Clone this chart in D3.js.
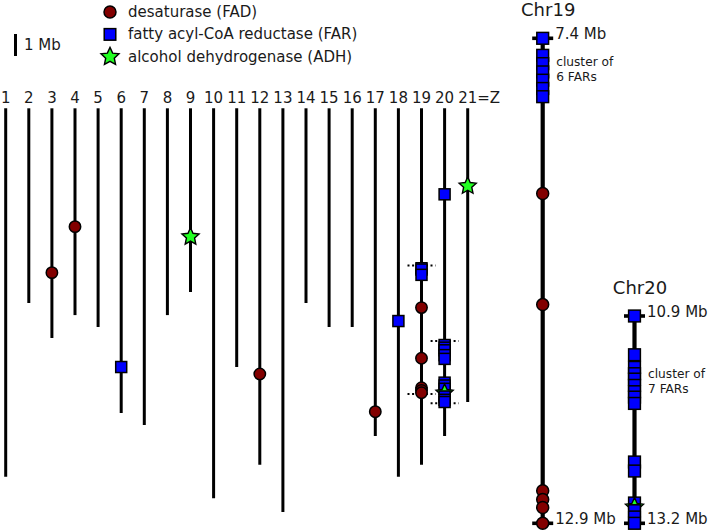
<!DOCTYPE html>
<html>
<head>
<meta charset="utf-8">
<script src="https://cdn.jsdelivr.net/npm/d3@7"></script>
<style>
  html, body { margin: 0; padding: 0; background: #fff; }
  svg { display: block; font-family: "DejaVu Sans", sans-serif; }
</style>
</head>
<body>
<svg id="chart" width="709" height="532"></svg>
<script>
// ---------------- DATA ----------------
const chromNames = ["1","2","3","4","5","6","7","8","9","10","11","12","13","14","15","16","17","18","19","20","21=Z"];
// chromosome lengths (Mb)
const chromLengths = [16.75, 8.85, 10.44, 9.4, 9.94, 13.85, 14.4, 9.4, 8.35, 17.72, 11.76, 16.2, 18.35, 8.85, 9.94, 9.94, 14.9, 16.75, 16.2, 14.9, 13.35];

// genome-wide markers (chromosome number, position Mb)
const fadMain = [[3,7.47],[4,5.38],[12,12.08],[17,13.79],[19,9.06],[19,11.36],[19,12.7],[19,12.82],[19,12.93]];
const farMain = [[6,11.76],[18,9.67],
  [19,7.27],[19,7.33],[19,7.57],
  [20,3.91],
  [20,10.76],[20,10.88],[20,11.0],[20,11.22],[20,11.39],
  [20,12.47],[20,12.6],[20,12.75],[20,13.1],[20,13.25],[20,13.35]];
const adhMain = [[9,5.84],[20,12.94],[21,3.53]];

// zoomed regions marked by dotted lines on the genome view (chr, start, end in Mb)
const zoomMarks = [[19,7.15,12.99],[20,10.58,13.41]];

// zoomed chromosome panels
const chr19Range = [7.4, 12.9];
const chr19FAD = [9.16, 10.42, 12.53, 12.63, 12.72, 12.9];
const chr19FAR = [7.4, 7.593, 7.687, 7.781, 7.875, 7.969, 8.062];
const chr19ADH = [];
const chr19Cluster = {start: 7.593, text: ["cluster of", "6 FARs"]};

const chr20Range = [10.9, 13.2];
const chr20FAD = [];
const chr20FAR = [10.9, 11.33, 11.47, 11.54, 11.6, 11.67, 11.74, 11.8, 11.87, 12.52, 12.62, 12.975, 13.06, 13.13, 13.2];
const chr20ADH = [13.02];
const chr20Cluster = {start: 11.47, text: ["cluster of", "7 FARs"]};

const legendItems = [["fad","desaturase (FAD)"],["far","fatty acyl-CoA reductase (FAR)"],["adh","alcohol dehydrogenase (ADH)"]];

// ---------------- STYLE ----------------
const COL = {fad: "#820000", far: "#0000ff", adh: "#22ff22"};
const TEXT = "#1a1a1a";

const svg = d3.select("#chart");

// scales for genome view
const x = d3.scaleLinear().domain([1, 21]).range([5.7, 467.7]);
const y = d3.scaleLinear().domain([0, 1]).range([108.3, 130.3]); // 22 px per Mb

function starPath(R, r) {
  const pts = [];
  for (let i = 0; i < 10; i++) {
    const a = -Math.PI / 2 + i * Math.PI / 5;
    const rad = i % 2 === 0 ? R : r;
    pts.push([Math.cos(a) * rad, Math.sin(a) * rad]);
  }
  return d3.line()(pts) + "Z";
}

function drawMarker(g, type, cx, cy, size) {
  const s = size || 1;
  if (type === "fad") {
    g.append("circle").attr("cx", cx).attr("cy", cy).attr("r", 5.7 * s)
      .attr("fill", COL.fad).attr("stroke", "#000").attr("stroke-width", 1.5);
  } else if (type === "far") {
    const w = 11 * s;
    g.append("rect").attr("x", cx - w / 2).attr("y", cy - w / 2).attr("width", w).attr("height", w)
      .attr("fill", COL.far).attr("stroke", "#000").attr("stroke-width", 1.5);
  } else {
    g.append("path").attr("d", starPath(9 * s, 4.3 * s)).attr("transform", `translate(${cx},${cy})`)
      .attr("fill", COL.adh).attr("stroke", "#000").attr("stroke-width", 1.4).attr("stroke-linejoin", "miter");
  }
}

// ---------------- LEGEND ----------------
const leg = svg.append("g");
legendItems.forEach((d, i) => {
  const cy = 12 + i * 22.4;
  drawMarker(leg, d[0], 110, cy, 1.05);
  leg.append("text").attr("x", 128).attr("y", cy).attr("dominant-baseline", "central")
    .attr("font-size", 15).attr("fill", TEXT).text(d[1]);
});

// scale bar 1 Mb
svg.append("line").attr("x1", 15.5).attr("x2", 15.5).attr("y1", 34).attr("y2", 34 + (y(1) - y(0)))
  .attr("stroke", "#000").attr("stroke-width", 3);
svg.append("text").attr("x", 24).attr("y", 45).attr("dominant-baseline", "central")
  .attr("font-size", 15).attr("fill", TEXT).text("1 Mb");

// ---------------- GENOME VIEW ----------------
const gv = svg.append("g");
chromNames.forEach((name, i) => {
  const cx = x(i + 1);
  gv.append("line").attr("x1", cx).attr("x2", cx).attr("y1", y(0)).attr("y2", y(chromLengths[i]))
    .attr("stroke", "#000").attr("stroke-width", 3);
  const num = name.split("=")[0];
  const t = gv.append("text").attr("y", 97.5).attr("dominant-baseline", "central")
    .attr("font-size", 15).attr("fill", TEXT).text(num);
  const w = t.node().getComputedTextLength();
  t.attr("x", cx - w / 2).text(name);
});

// dotted zoom marks
zoomMarks.forEach(([c, s, e]) => {
  [s, e].forEach(p => {
    gv.append("line").attr("x1", x(c) - 14).attr("x2", x(c) + 14).attr("y1", y(p)).attr("y2", y(p))
      .attr("stroke", "#000").attr("stroke-width", 2).attr("stroke-dasharray", "2,2.6");
  });
});

const allMain = []
  .concat(fadMain.map(d => ({type: "fad", c: d[0], p: d[1]})))
  .concat(farMain.map(d => ({type: "far", c: d[0], p: d[1]})))
  .concat(adhMain.map(d => ({type: "adh", c: d[0], p: d[1]})))
  .sort((a, b) => a.p - b.p);
allMain.forEach(d => drawMarker(gv, d.type, x(d.c), y(d.p)));

// ---------------- ZOOM PANELS ----------------
function zoomPanel(cx, range, yr, title, fad, far, adh, cluster) {
  const ys = d3.scaleLinear().domain(range).range(yr);
  const g = svg.append("g");
  g.append("line").attr("x1", cx).attr("x2", cx).attr("y1", ys(range[0])).attr("y2", ys(range[1]))
    .attr("stroke", "#000").attr("stroke-width", 4.2);
  range.forEach(p => {
    g.append("line").attr("x1", cx - 10.5).attr("x2", cx + 10.5).attr("y1", ys(p)).attr("y2", ys(p))
      .attr("stroke", "#000").attr("stroke-width", 3.6);
    g.append("text").attr("x", cx + 12.5).attr("y", ys(p) - 4.5).attr("dominant-baseline", "central")
      .attr("font-size", 15).attr("fill", TEXT).text(p.toFixed(1) + " Mb");
  });
  g.append("text").attr("x", cx + 5.5).attr("y", ys(range[0]) - 28.5).attr("text-anchor", "middle")
    .attr("dominant-baseline", "central").attr("font-size", 18).attr("fill", TEXT).text(title);
  const marks = []
    .concat(fad.map(p => ({type: "fad", p})))
    .concat(far.map(p => ({type: "far", p})))
    .concat(adh.map(p => ({type: "adh", p})))
    .sort((a, b) => a.p - b.p);
  marks.forEach(d => drawMarker(g, d.type, cx, ys(d.p), d.type === "far" ? 1.07 : 1.05));
  cluster.text.forEach((t, i) => {
    g.append("text").attr("x", cx + 13.5).attr("y", ys(cluster.start) + 6.8 + i * 15)
      .attr("dominant-baseline", "central").attr("font-size", 12.2).attr("fill", TEXT).text(t);
  });
}

zoomPanel(542.7, chr19Range, [38.3, 523.3], "Chr19", chr19FAD, chr19FAR, chr19ADH, chr19Cluster);
zoomPanel(634.5, chr20Range, [316, 523.3], "Chr20", chr20FAD, chr20FAR, chr20ADH, chr20Cluster);
</script>
</body>
</html>
